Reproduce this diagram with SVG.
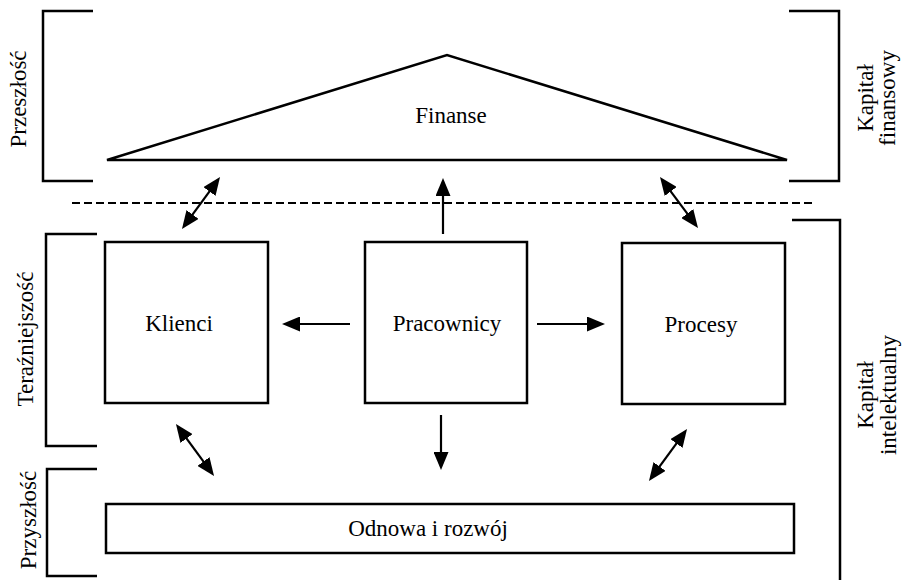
<svg xmlns="http://www.w3.org/2000/svg" width="902" height="580" viewBox="0 0 902 580">
<style>
.box{fill:#fff;stroke:#000;stroke-width:2.5}
.br{fill:none;stroke:#000;stroke-width:2.5}
.ln{fill:none;stroke:#000;stroke-width:2.2}
.t{font-family:"Liberation Serif","Times New Roman",serif;font-size:23px;fill:#000}
.c{text-anchor:middle}
</style>
<defs>
<marker id="ah" viewBox="0 0 18 15" refX="12" refY="7.5" markerWidth="18" markerHeight="15" markerUnits="userSpaceOnUse" orient="auto-start-reverse">
<path d="M0,0 L18,7.5 L0,15 z" fill="#000"/>
</marker>
</defs>
<rect width="902" height="580" fill="#fff"/>
<g id="brackets">
<path class="br" d="M93,11 H43 V181 H93"/>
<path class="br" d="M97,234 H46 V446 H97"/>
<path class="br" d="M97,469 H47 V576 H97"/>
<path class="br" d="M789,11 H839 V181 H789"/>
<path class="br" d="M792,220 H840 V582"/>
</g>
<g id="labels">
<text class="t c" transform="translate(26,99) rotate(-90)">Przeszłość</text>
<text class="t c" transform="translate(33,339) rotate(-90)">Teraźniejszość</text>
<text class="t c" transform="translate(36,520) rotate(-90)">Przyszłość</text>
<text class="t c" transform="translate(873,98) rotate(-90)">Kapitał</text>
<text class="t c" transform="translate(895,98) rotate(-90)">finansowy</text>
<text class="t c" transform="translate(873,395) rotate(-90)">Kapitał</text>
<text class="t c" transform="translate(896,395) rotate(-90)">intelektualny</text>
</g>
<g id="finanse">
<path class="box" d="M107,160 L447,55 L787,160 Z"/>
<text class="t c" x="451" y="123">Finanse</text>
</g>
<g id="klienci">
<rect class="box" x="105" y="242" width="163" height="161"/>
<text class="t c" x="179" y="331">Klienci</text>
</g>
<g id="pracownicy">
<rect class="box" x="365" y="242" width="162" height="161"/>
<text class="t c" x="447" y="331">Pracownicy</text>
</g>
<g id="procesy">
<rect class="box" x="622" y="243" width="163" height="161"/>
<text class="t c" x="701" y="332">Procesy</text>
</g>
<g id="odnowa">
<rect class="box" x="106" y="504" width="688" height="49"/>
<text class="t c" x="428" y="536">Odnowa i rozwój</text>
</g>
<g id="connectors">
<line class="ln" x1="72" y1="203" x2="815" y2="203" stroke-dasharray="8 4"/>
<line class="ln" x1="443" y1="234" x2="443" y2="184" marker-end="url(#ah)"/>
<line class="ln" x1="350" y1="324" x2="288" y2="324" marker-end="url(#ah)"/>
<line class="ln" x1="537" y1="324" x2="599" y2="324" marker-end="url(#ah)"/>
<line class="ln" x1="441" y1="415" x2="441" y2="464" marker-end="url(#ah)"/>
<line class="ln" x1="216.5" y1="181.8" x2="185.5" y2="224.2" marker-start="url(#ah)" marker-end="url(#ah)"/>
<line class="ln" x1="663.6" y1="181.8" x2="694.4" y2="223.2" marker-start="url(#ah)" marker-end="url(#ah)"/>
<line class="ln" x1="179.5" y1="428.8" x2="210.5" y2="471.2" marker-start="url(#ah)" marker-end="url(#ah)"/>
<line class="ln" x1="683.5" y1="433.8" x2="652.5" y2="476.2" marker-start="url(#ah)" marker-end="url(#ah)"/>
</g>
</svg>
